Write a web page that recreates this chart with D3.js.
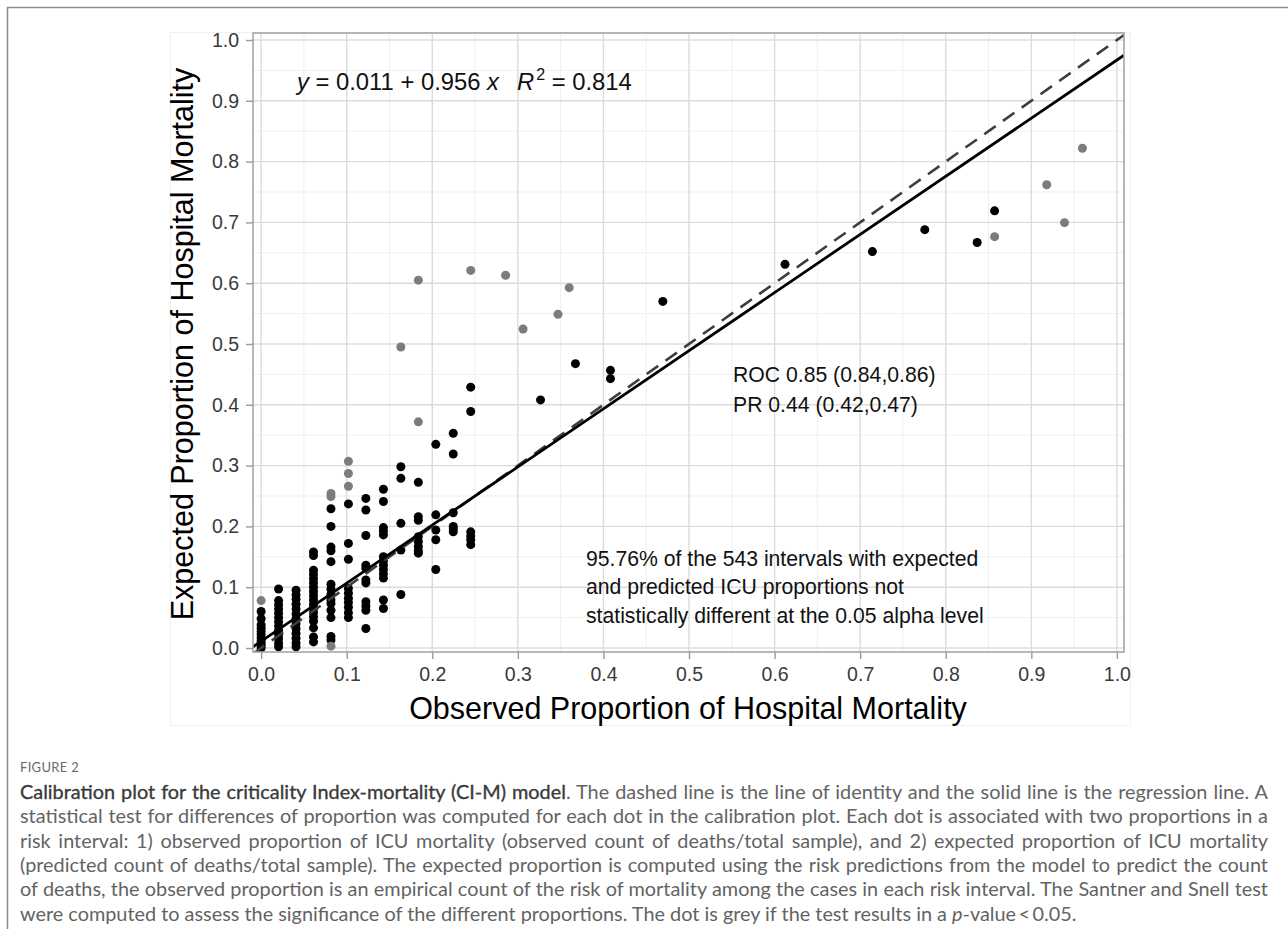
<!DOCTYPE html>
<html>
<head>
<meta charset="utf-8">
<script src="https://cdn.jsdelivr.net/npm/d3@7"></script>
<style>
  body { margin: 0; background: #fff; width: 1288px; height: 929px; overflow: hidden; position: relative; }
  svg { position: absolute; left: 0; top: 0; }
  .cap { position: absolute; left: 20px; font-family: Lato, "Open Sans", sans-serif; color: #636363; white-space: nowrap; line-height: 1.2; }
  .cap b { font-weight: normal; color: #3a3a3a; -webkit-text-stroke: 0.35px #3a3a3a; }
  #figlabel { position: absolute; left: 20px; top: 759px; font-family: Lato, "Open Sans", sans-serif; font-size: 13px; color: #6a6a6a; letter-spacing: 0.3px; }
</style>
</head>
<body>
<svg id="chart" width="1288" height="929"></svg>
<div id="figlabel">FIGURE 2</div>
<div id="caption"></div>
<script>
// observed proportion of each risk-interval column (x) and expected proportions (y)
var colObs = [0, 0.0204, 0.0408, 0.0612, 0.0816, 0.102, 0.1224, 0.1429, 0.1633, 0.1837, 0.2041, 0.2245, 0.2449];

var colExpBlack = [
  [0.06, 0.048, 0.038, 0.032, 0.027, 0.022, 0.017, 0.012, 0.008, 0.004, 0.0],
  [0.097, 0.078, 0.071, 0.064, 0.057, 0.05, 0.043, 0.036, 0.029, 0.022, 0.015, 0.008, 0.002],
  [0.095, 0.087, 0.08, 0.072, 0.064, 0.056, 0.048, 0.04, 0.032, 0.024, 0.016, 0.008, 0.002],
  [0.158, 0.152, 0.128, 0.121, 0.114, 0.107, 0.1, 0.093, 0.086, 0.079, 0.072, 0.065, 0.058, 0.051, 0.044, 0.033, 0.018, 0.01],
  [0.229, 0.2, 0.166, 0.16, 0.142, 0.105, 0.097, 0.088, 0.079, 0.073, 0.062, 0.05, 0.019, 0.013],
  [0.237, 0.172, 0.146, 0.098, 0.09, 0.082, 0.075, 0.067, 0.058, 0.05],
  [0.246, 0.227, 0.185, 0.136, 0.131, 0.112, 0.107, 0.076, 0.069, 0.062, 0.032],
  [0.261, 0.241, 0.198, 0.192, 0.186, 0.15, 0.143, 0.136, 0.129, 0.122, 0.115, 0.079, 0.065],
  [0.298, 0.279, 0.205, 0.161, 0.088],
  [0.2725, 0.216, 0.21, 0.183, 0.175, 0.167, 0.16, 0.156],
  [0.335, 0.219, 0.194, 0.178, 0.129],
  [0.353, 0.319, 0.2225, 0.2, 0.196, 0.191],
  [0.429, 0.389, 0.191, 0.184, 0.178, 0.17]
];

var colExpGrey = [
  [0.078], [], [], [], [0.254, 0.249, 0.003], [0.307, 0.287, 0.266], [], [],
  [0.495], [0.605, 0.372], [], [], [0.621]
];

// isolated intervals further right
var blackObs = [0.3265, 0.3673, 0.4082, 0.4082, 0.4694, 0.6122, 0.7143, 0.7755, 0.8367, 0.8571];
var blackExp = [0.408, 0.4676, 0.4567, 0.443, 0.570, 0.631, 0.652, 0.688, 0.667, 0.719];
var greyObs = [0.2857, 0.3061, 0.3469, 0.36, 0.8571, 0.918, 0.9388, 0.9597];
var greyExp = [0.613, 0.5247, 0.549, 0.5926, 0.6765, 0.762, 0.6996, 0.822];

var tickValues = [0, 0.1, 0.2, 0.3, 0.4, 0.5, 0.6, 0.7, 0.8, 0.9, 1.0];
var minorValues = [0.05, 0.15, 0.25, 0.35, 0.45, 0.55, 0.65, 0.75, 0.85, 0.95];

// regression line from the equation label
var regIntercept = 0.011;
var regSlope = 0.956;
var rSquared = 0.814;

var rocLines = ["ROC 0.85 (0.84,0.86)", "PR 0.44 (0.42,0.47)"];
var noteLines = ["95.76% of the 543 intervals with expected",
                 "and predicted ICU proportions not",
                 "statistically different at the 0.05 alpha level"];

var captionBold = "Calibration plot for the criticality Index-mortality (CI-M) model";
var captionLines = [
  ". The dashed line is the line of identity and the solid line is the regression line. A",
  "statistical test for differences of proportion was computed for each dot in the calibration plot. Each dot is associated with two proportions in a",
  "risk interval: 1) observed proportion of ICU mortality (observed count of deaths/total sample), and 2) expected proportion of ICU mortality",
  "(predicted count of deaths/total sample). The expected proportion is computed using the risk predictions from the model to predict the count",
  "of deaths, the observed proportion is an empirical count of the risk of mortality among the cases in each risk interval. The Santner and Snell test",
  "were computed to assess the significance of the different proportions. The dot is grey if the test results in a <i>p</i>-value\u2009<\u20090.05."
];

var svg = d3.select("#chart");

// page frame lines
svg.append("line").attr("x1", 7).attr("y1", 7.5).attr("x2", 1288).attr("y2", 7.5)
  .attr("stroke", "#8c8c8c").attr("stroke-width", 1.5);
svg.append("line").attr("x1", 7.5).attr("y1", 7).attr("x2", 7.5).attr("y2", 929)
  .attr("stroke", "#8c8c8c").attr("stroke-width", 1.5);

// faint border of the figure image
svg.append("rect").attr("x", 170.5).attr("y", 32.5).attr("width", 960).attr("height", 693)
  .attr("fill", "none").attr("stroke", "#f0f0f0");

var panel = { left: 253, right: 1124, top: 33, bottom: 652 };

var x = d3.scaleLinear().domain([-0.0095, 1.0083]).range([panel.left, panel.right]);
var y = d3.scaleLinear().domain([-0.0066, 1.0115]).range([panel.bottom, panel.top]);

svg.append("clipPath").attr("id", "clip").append("rect")
  .attr("x", panel.left).attr("y", panel.top)
  .attr("width", panel.right - panel.left).attr("height", panel.bottom - panel.top);

var grid = svg.append("g");
grid.selectAll(".vminor").data(minorValues).enter().append("line")
  .attr("x1", d => x(d)).attr("x2", d => x(d)).attr("y1", panel.top).attr("y2", panel.bottom)
  .attr("stroke", "#efefef").attr("stroke-width", 1);
grid.selectAll(".hminor").data(minorValues).enter().append("line")
  .attr("y1", d => y(d)).attr("y2", d => y(d)).attr("x1", panel.left).attr("x2", panel.right)
  .attr("stroke", "#efefef").attr("stroke-width", 1);
grid.selectAll(".vmajor").data(tickValues).enter().append("line")
  .attr("x1", d => x(d)).attr("x2", d => x(d)).attr("y1", panel.top).attr("y2", panel.bottom)
  .attr("stroke", "#dcdcdc").attr("stroke-width", 1.4);
grid.selectAll(".hmajor").data(tickValues).enter().append("line")
  .attr("y1", d => y(d)).attr("y2", d => y(d)).attr("x1", panel.left).attr("x2", panel.right)
  .attr("stroke", "#dcdcdc").attr("stroke-width", 1.4);

// points
var blackPts = [], greyPts = [];
colObs.forEach(function(o, i) {
  colExpBlack[i].forEach(e => blackPts.push([o, e]));
  colExpGrey[i].forEach(e => greyPts.push([o, e]));
});
blackObs.forEach((o, i) => blackPts.push([o, blackExp[i]]));
greyObs.forEach((o, i) => greyPts.push([o, greyExp[i]]));

var pts = svg.append("g").attr("clip-path", "url(#clip)");
pts.selectAll(".blk").data(blackPts).enter().append("circle")
  .attr("cx", d => x(d[0])).attr("cy", d => y(d[1])).attr("r", 4.5).attr("fill", "#000");
pts.selectAll(".gry").data(greyPts).enter().append("circle")
  .attr("cx", d => x(d[0])).attr("cy", d => y(d[1])).attr("r", 4.5).attr("fill", "#7c7c7c");

// identity and regression lines
var xd = x.domain();
var lines = svg.append("g").attr("clip-path", "url(#clip)");
lines.append("line")
  .attr("x1", x(xd[0])).attr("y1", y(xd[0])).attr("x2", x(xd[1])).attr("y2", y(xd[1]))
  .attr("stroke", "#3d3d3d").attr("stroke-width", 2.6).attr("stroke-dasharray", "14,9");
lines.append("line")
  .attr("x1", x(xd[0])).attr("y1", y(regIntercept + regSlope * xd[0]))
  .attr("x2", x(xd[1])).attr("y2", y(regIntercept + regSlope * xd[1]))
  .attr("stroke", "#000").attr("stroke-width", 2.8);

// panel border
svg.append("rect").attr("x", panel.left).attr("y", panel.top)
  .attr("width", panel.right - panel.left).attr("height", panel.bottom - panel.top)
  .attr("fill", "none").attr("stroke", "#a6a6a6").attr("stroke-width", 1.6);

// axes
var fmt = d3.format(".1f");
var yAxis = svg.append("g").attr("transform", `translate(${panel.left},0)`)
  .call(d3.axisLeft(y).tickValues(tickValues).tickFormat(fmt).tickSize(7).tickPadding(7));
var xAxis = svg.append("g").attr("transform", `translate(0,${panel.bottom})`)
  .call(d3.axisBottom(x).tickValues(tickValues).tickFormat(fmt).tickSize(7).tickPadding(8));
[xAxis, yAxis].forEach(function(a) {
  a.select(".domain").remove();
  a.selectAll(".tick line").attr("stroke", "#9a9a9a").attr("stroke-width", 1.4);
  a.selectAll(".tick text").attr("fill", "#3a3a3a")
    .style("font-family", "'Liberation Sans', Arial, sans-serif").style("font-size", "19.5px");
});

var font = "'Liberation Sans', Arial, sans-serif";

svg.append("text").attr("x", 688).attr("y", 719).attr("text-anchor", "middle")
  .style("font-family", font).style("font-size", "30.5px").attr("fill", "#000")
  .text("Observed Proportion of Hospital Mortality");
svg.append("text").attr("transform", "translate(193,344) rotate(-90)").attr("text-anchor", "middle")
  .style("font-family", font).style("font-size", "30.5px").attr("fill", "#000")
  .text("Expected Proportion of Hospital Mortality");

// equation label
var f3 = d3.format(".3f");
var eq = svg.append("text").attr("x", 297).attr("y", 90)
  .style("font-family", font).style("font-size", "23.8px").attr("fill", "#111");
eq.append("tspan").style("font-style", "italic").text("y");
eq.append("tspan").text(" = " + f3(regIntercept) + " + " + f3(regSlope) + " ");
eq.append("tspan").style("font-style", "italic").text("x");
eq.append("tspan").attr("x", 517).style("font-style", "italic").text("R");
eq.append("tspan").attr("dx", 2).attr("dy", -10).style("font-size", "16px").text("2");
eq.append("tspan").attr("dy", 10).text(" = " + f3(rSquared));

svg.selectAll(".roc").data(rocLines).enter().append("text")
  .attr("x", 733).attr("y", (d, i) => 381.5 + i * 30)
  .style("font-family", font).style("font-size", "21.2px").attr("fill", "#111").text(d => d);

svg.selectAll(".note").data(noteLines).enter().append("text")
  .attr("x", 586).attr("y", (d, i) => 565.5 + i * 28.5)
  .style("font-family", font).style("font-size", "21.2px").attr("fill", "#111").text(d => d);

// caption, each line justified to the full width
var cap = d3.select("#caption");
var capDivs = cap.selectAll("div").data(captionLines).enter().append("div")
  .attr("class", "cap")
  .style("top", (d, i) => (780 + i * 24.3) + "px")
  .html((d, i) => "<span>" + (i === 0 ? "<b>" + captionBold + "</b>" : "") + d + "</span>");

var last = capDivs.filter((d, i) => i === captionLines.length - 1).select("span").node();
capDivs.style("font-size", "17px");
var w6 = last.getBoundingClientRect().width;
var fs = 17 * 1057 / w6;
capDivs.style("font-size", fs + "px");
capDivs.each(function(d, i) {
  if (i === captionLines.length - 1) return;
  var span = d3.select(this).select("span");
  var w = span.node().getBoundingClientRect().width;
  var spaces = (span.text().match(/ /g) || []).length;
  span.style("word-spacing", ((1248 - w) / spaces) + "px");
});
</script>
</body>
</html>
